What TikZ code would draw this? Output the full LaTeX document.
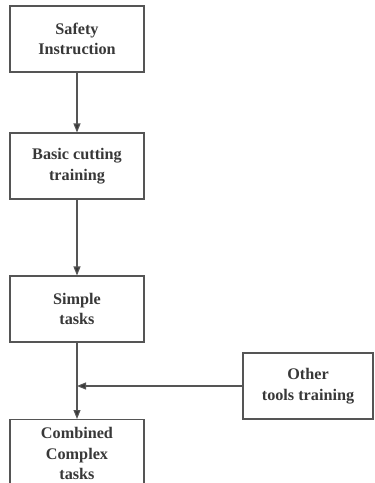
\documentclass[tikz,border=0pt]{standalone}
\usepackage{fontspec}
\setmainfont{Liberation Serif}
\usetikzlibrary{arrows.meta}
\definecolor{edge}{HTML}{555555}
\definecolor{ink}{HTML}{383838}
\begin{document}
\begin{tikzpicture}[x=1pt,y=-1pt,
  label font/.style={text=ink, font=\bfseries\fontsize{16.2}{20.5}\selectfont, align=center},
  stepbox/.style={draw=edge, line width=1.1pt, fill=white, label font,
    inner sep=0pt, minimum width=134pt, minimum height=66pt},
  flow/.style={draw=edge, line width=1.1pt,
    -{Triangle[length=9pt,width=7pt,fill=ink]}}]
\useasboundingbox (0,0) rectangle (375,483);
\clip (0,0) rectangle (375,483);
% main column
\node[stepbox] (safety) at (77,39) {Safety\\Instruction};
\node[stepbox] (basic) at (77,166) {Basic cutting\\training};
\node[stepbox] (simple) at (77,309) {Simple\\tasks};
\node[stepbox, minimum height=90pt, anchor=north] (combined) at (77,419) {};
\node[label font, anchor=north] (combinedtext) at (77,424) {Combined\\Complex\\tasks};
% side branch
\node[stepbox, minimum width=130pt] (other) at (308,386) {Other\\tools training};
\coordinate (join) at (77,386);
% connectors
\draw[flow] (safety) -- (basic);
\draw[flow] (basic) -- (simple);
\draw[flow] (simple) -- (combined);
\draw[flow] (other) -- (join);
\end{tikzpicture}
\end{document}
